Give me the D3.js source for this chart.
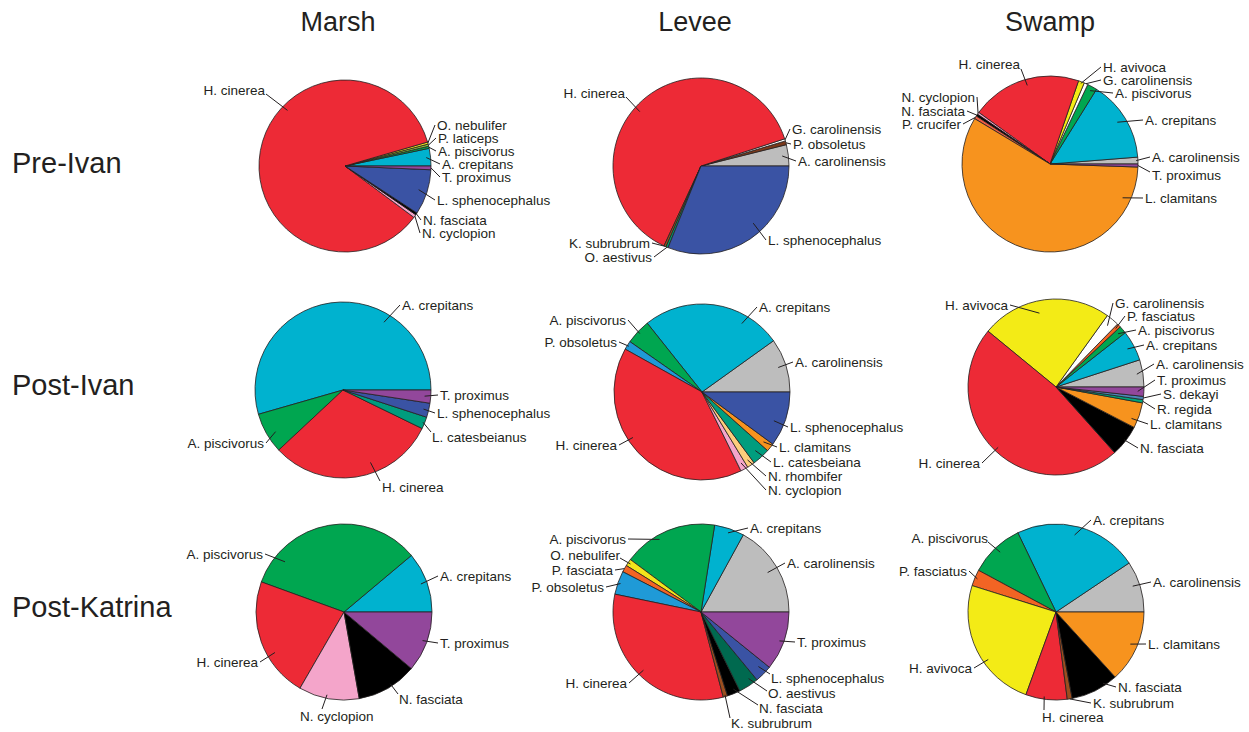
<!DOCTYPE html>
<html>
<head>
<meta charset="utf-8">
<script src="https://cdn.jsdelivr.net/npm/d3@7"></script>
<style>
  html, body { margin: 0; padding: 0; background: #fff; }
  svg { display: block; font-family: "Liberation Sans", Arial, Helvetica, sans-serif; }
</style>
</head>
<body>
<svg id="chart" width="1249" height="732"></svg>
<script>
// ---- Habitat columns and sampling periods ----
const habitats = ["Marsh", "Levee", "Swamp"];
const periods = ["Pre-Ivan", "Post-Ivan", "Post-Katrina"];

// ---- Species composition (% of captures), listed counter-clockwise from 3 o'clock ----
const marshPreIvanSpecies = ["A. crepitans", "A. piscivorus", "P. laticeps", "O. nebulifer", "H. cinerea", "N. cyclopion", "N. fasciata", "L. sphenocephalus", "T. proximus"];
const marshPreIvanShare   = [3.3, 0.4, 0.4, 0.4, 85.3, 0.6, 0.4, 8.5, 0.7];

const leveePreIvanSpecies = ["A. carolinensis", "P. obsoletus", "G. carolinensis", "H. cinerea", "K. subrubrum", "O. aestivus", "L. sphenocephalus"];
const leveePreIvanShare   = [3.9, 0.7, 0.4, 63.1, 0.4, 0.4, 31.1];

const swampPreIvanSpecies = ["A. carolinensis", "A. crepitans", "A. piscivorus", "G. carolinensis", "H. avivoca", "H. cinerea", "N. cyclopion", "N. fasciata", "P. crucifer", "L. clamitans", "T. proximus"];
const swampPreIvanShare   = [1.25, 14.9, 1.8, 0.7, 1.1, 20.3, 0.4, 0.4, 0.55, 58.1, 0.55];

const marshPostIvanSpecies = ["A. crepitans", "A. piscivorus", "H. cinerea", "L. catesbeianus", "L. sphenocephalus", "T. proximus"];
const marshPostIvanShare   = [54.4, 7.5, 30.8, 2.2, 2.6, 2.4];

const leveePostIvanSpecies = ["A. carolinensis", "A. crepitans", "A. piscivorus", "P. obsoletus", "H. cinerea", "N. cyclopion", "N. rhombifer", "L. catesbeiana", "L. clamitans", "L. sphenocephalus"];
const leveePostIvanShare   = [9.9, 25.8, 4.6, 1.6, 40.4, 1.4, 1.4, 3.3, 1.5, 10.1];

const swampPostIvanSpecies = ["A. carolinensis", "A. crepitans", "A. piscivorus", "P. fasciatus", "G. carolinensis", "H. avivoca", "H. cinerea", "N. fasciata", "L. clamitans", "R. regida", "S. dekayi", "T. proximus"];
const swampPostIvanShare   = [5.0, 5.6, 1.4, 0.7, 2.4, 24.0, 47.6, 5.8, 4.7, 0.6, 0.6, 1.7];

const marshPostKatrinaSpecies = ["A. crepitans", "A. piscivorus", "H. cinerea", "N. cyclopion", "N. fasciata", "T. proximus"];
const marshPostKatrinaShare   = [11.1, 33.3, 22.2, 11.1, 11.1, 11.1];

const leveePostKatrinaSpecies = ["A. carolinensis", "A. crepitans", "A. piscivorus", "O. nebulifer", "P. fasciata", "P. obsoletus", "H. cinerea", "K. subrubrum", "N. fasciata", "O. aestivus", "L. sphenocephalus", "T. proximus"];
const leveePostKatrinaShare   = [17.0, 5.5, 17.3, 1.3, 1.3, 4.3, 32.3, 0.8, 2.4, 3.7, 3.2, 10.8];

const swampPostKatrinaSpecies = ["A. carolinensis", "A. crepitans", "A. piscivorus", "P. fasciatus", "H. avivoca", "H. cinerea", "K. subrubrum", "N. fasciata", "L. clamitans"];
const swampPostKatrinaShare   = [9.4, 22.75, 10.0, 3.0, 24.3, 7.6, 0.9, 8.8, 13.25];

// ---- Species colours ----
const speciesColor = {
  "H. cinerea": "#ed2a36",
  "A. crepitans": "#00b2cf",
  "L. sphenocephalus": "#3a53a4",
  "A. piscivorus": "#00a650",
  "T. proximus": "#92479b",
  "A. carolinensis": "#bdbdbd",
  "L. clamitans": "#f7931e",
  "H. avivoca": "#f3eb16",
  "N. fasciata": "#000000",
  "N. cyclopion": "#f4a5ca",
  "L. catesbeianus": "#009d7e",
  "L. catesbeiana": "#009d7e",
  "N. rhombifer": "#fdcd7c",
  "P. obsoletus": "#1f9ad7",
  "G. carolinensis": "#ffffff",
  "P. fasciatus": "#f26424",
  "P. fasciata": "#f26424",
  "O. nebulifer": "#f2e51b",
  "P. laticeps": "#8cc63f",
  "K. subrubrum": "#9c4e1f",
  "O. aestivus": "#00694f",
  "S. dekayi": "#4d88b9",
  "R. regida": "#00a67a",
  "P. crucifer": "#f15d45"
};
const leveePreIvanColor = { "P. obsoletus": "#7b3a1c", "O. aestivus": "#00a06a" };

// ---- Label layout: [x, y, anchor, position within slice, radius fraction, leader x, leader y] ----
// x / y are offsets from the pie centre; the leader starts inside the slice.
const marshPreIvanLabels = [
  [97, -2, "start", .5, .95], [93, -15, "start", .5, 1], [93, -28, "start", .5, 1], [92, -41, "start", .5, 1],
  [-80, -76, "end", .39, .93, 1, 4], [77, 67, "start", .5, 1], [78, 54, "start", .5, 1],
  [92, 34, "start", .5, .9], [97, 11, "start", .5, 1]
];
const leveePreIvanLabels = [
  [97, -5, "start", .5, .93], [92, -22, "start", .5, 1], [91, -37, "start", .5, 1],
  [-76, -73, "end", .53, .93, 1, 4], [-51, 77, "end", .5, 1], [-49, 91, "end", .5, 1],
  [67, 74, "start", .575, .88]
];
const swampPreIvanLabels = [
  [102, -7, "start", .5, .98], [95, -44, "start", .51, .9], [65, -71, "start", .5, .95], [53, -84, "start", .5, 1],
  [53, -97, "start", .5, .98], [-30, -100, "end", .48, .93, 1, 5], [-75, -67, "end", .5, 1],
  [-85, -53, "end", .5, 1], [-89, -40, "end", .5, 1], [95, 34, "start", .89, .91], [102, 11, "start", .5, 1, -2, -3]
];
const marshPostIvanLabels = [
  [59, -85, "start", .3, .9], [-79, 53, "end", .58, .9], [39, 97, "start", .61, .88, -2, -6],
  [89, 47, "start", .5, .98, -1, -5], [94, 23, "start", .5, .94], [97, 5, "start", .5, .93]
];
const leveePostIvanLabels = [
  [93, -30, "start", .5, .91], [57, -85, "start", .26, .9], [-76, -72, "end", .5, .97], [-85, -50, "end", .5, .98],
  [-85, 53, "end", .43, .94], [66, 98, "start", .5, .92], [66, 84, "start", .5, .93], [71, 70, "start", .5, .9],
  [77, 55, "start", .5, .9], [88, 35, "start", .4, .88]
];
const swampPostIvanLabels = [
  [100, -23, "start", .5, .93], [90, -42, "start", .5, .92], [82, -57, "start", .5, .93], [71, -71, "start", .5, .95],
  [59, -84, "start", .5, .91], [-48, -82, "end", .56, .86], [-76, 76, "end", .5, .95], [84, 61, "start", .5, .98],
  [94, 37, "start", .28, .93], [101, 22, "start", .5, 1], [107, 7, "start", .5, 1], [101, -7, "start", .5, .93]
];
const marshPostKatrinaLabels = [
  [96, -36, "start", .5, .93], [-81, -58, "end", .83, .88], [-86, 50, "end", .63, .91],
  [-44, 104, "start", .46, .96, 22, -7], [55, 87, "start", .57, .97, -1, -5], [96, 31, "start", .5, .95]
];
const leveePostKatrinaLabels = [
  [86, -49, "start", .5, .88], [49, -84, "start", .5, .95], [-75, -73, "end", .62, .95], [-81, -57, "end", .5, .97, 0, 3],
  [-88, -42, "end", .5, 1], [-97, -25, "end", .5, .97], [-74, 71, "end", .49, .93], [30, 111, "start", .5, .98, -1, -5],
  [58, 96, "start", .6, .95, -1, -3], [67, 81, "start", .7, .93, -1, -2], [70, 66, "start", .6, .9, -1, -4],
  [96, 30, "start", .48, .95]
];
const swampPostKatrinaLabels = [
  [97, -30, "start", .55, .92], [37, -92, "start", .52, .9], [-68, -74, "end", .48, .93, 0, 4], [-89, -41, "end", .5, .97],
  [-84, 56, "end", .6, .94], [-14, 105, "start", .44, .97, 2, -7], [37, 91, "start", .5, 1],
  [62, 75, "start", .72, .97], [92, 32, "start", .51, .92]
];

// ---- Panel placement ----
const panels = [
  { species: marshPreIvanSpecies, share: marshPreIvanShare, labels: marshPreIvanLabels, cx: 345, cy: 166, r: 86 },
  { species: leveePreIvanSpecies, share: leveePreIvanShare, labels: leveePreIvanLabels, cx: 701, cy: 166, r: 88, colors: leveePreIvanColor },
  { species: swampPreIvanSpecies, share: swampPreIvanShare, labels: swampPreIvanLabels, cx: 1050, cy: 164, r: 88 },
  { species: marshPostIvanSpecies, share: marshPostIvanShare, labels: marshPostIvanLabels, cx: 343, cy: 390, r: 88 },
  { species: leveePostIvanSpecies, share: leveePostIvanShare, labels: leveePostIvanLabels, cx: 702, cy: 392, r: 88 },
  { species: swampPostIvanSpecies, share: swampPostIvanShare, labels: swampPostIvanLabels, cx: 1056, cy: 387, r: 88 },
  { species: marshPostKatrinaSpecies, share: marshPostKatrinaShare, labels: marshPostKatrinaLabels, cx: 344, cy: 612, r: 88 },
  { species: leveePostKatrinaSpecies, share: leveePostKatrinaShare, labels: leveePostKatrinaLabels, cx: 701, cy: 612, r: 88 },
  { species: swampPostKatrinaSpecies, share: swampPostKatrinaShare, labels: swampPostKatrinaLabels, cx: 1056, cy: 612, r: 88 }
];
const columnX = [338, 695, 1050];
const rowY = [163, 385, 607];

const svg = d3.select("#chart");
const ink = "#231f20";

// Column headers and row headers
svg.selectAll("text.habitat").data(habitats).join("text")
  .attr("class", "habitat")
  .attr("x", (d, i) => columnX[i]).attr("y", 22).attr("dy", "0.35em")
  .attr("text-anchor", "middle").attr("font-size", 27).attr("fill", ink)
  .text(d => d);

svg.selectAll("text.period").data(periods).join("text")
  .attr("class", "period")
  .attr("x", 12).attr("y", (d, i) => rowY[i]).attr("dy", "0.35em")
  .attr("text-anchor", "start").attr("font-size", 29).attr("fill", ink)
  .text(d => d);

// Pies run counter-clockwise starting at 3 o'clock
const pie = d3.pie().sort(null).value(d => d.value)
  .startAngle(Math.PI / 2).endAngle(Math.PI / 2 - 2 * Math.PI);

panels.forEach(p => {
  const rows = p.species.map((s, i) => ({ name: s, value: p.share[i], label: p.labels[i] }));
  const arcs = pie(rows);
  const arc = d3.arc().innerRadius(0).outerRadius(p.r);
  const g = svg.append("g").attr("transform", `translate(${p.cx},${p.cy})`);
  const fillOf = name => (p.colors && p.colors[name]) || speciesColor[name];

  g.selectAll("path.slice").data(arcs).join("path")
    .attr("class", "slice")
    .attr("d", arc)
    .attr("fill", d => fillOf(d.data.name))
    .attr("stroke", ink).attr("stroke-width", 0.8).attr("stroke-linejoin", "round");

  // Leader lines from inside each slice to its label
  const inner = d => {
    const [, , , t, rf] = d.data.label;
    const a = d.startAngle + t * (d.endAngle - d.startAngle);
    const rr = rf * p.r;
    return [Math.sin(a) * rr, -Math.cos(a) * rr];
  };
  const outer = d => {
    const [x, y, anchor, , , ox, oy] = d.data.label;
    const dx = ox !== undefined ? ox : (anchor === "start" ? -2 : 2);
    return [x + dx, y + (oy || 0)];
  };
  g.selectAll("line.leader").data(arcs).join("line")
    .attr("class", "leader")
    .attr("x1", d => inner(d)[0]).attr("y1", d => inner(d)[1])
    .attr("x2", d => outer(d)[0]).attr("y2", d => outer(d)[1])
    .attr("stroke", ink).attr("stroke-width", 1);

  g.selectAll("text.label").data(arcs).join("text")
    .attr("class", "label")
    .attr("x", d => d.data.label[0]).attr("y", d => d.data.label[1]).attr("dy", "0.35em")
    .attr("text-anchor", d => d.data.label[2])
    .attr("font-size", 13.5).attr("fill", ink)
    .text(d => d.data.name);
});
</script>
</body>
</html>
